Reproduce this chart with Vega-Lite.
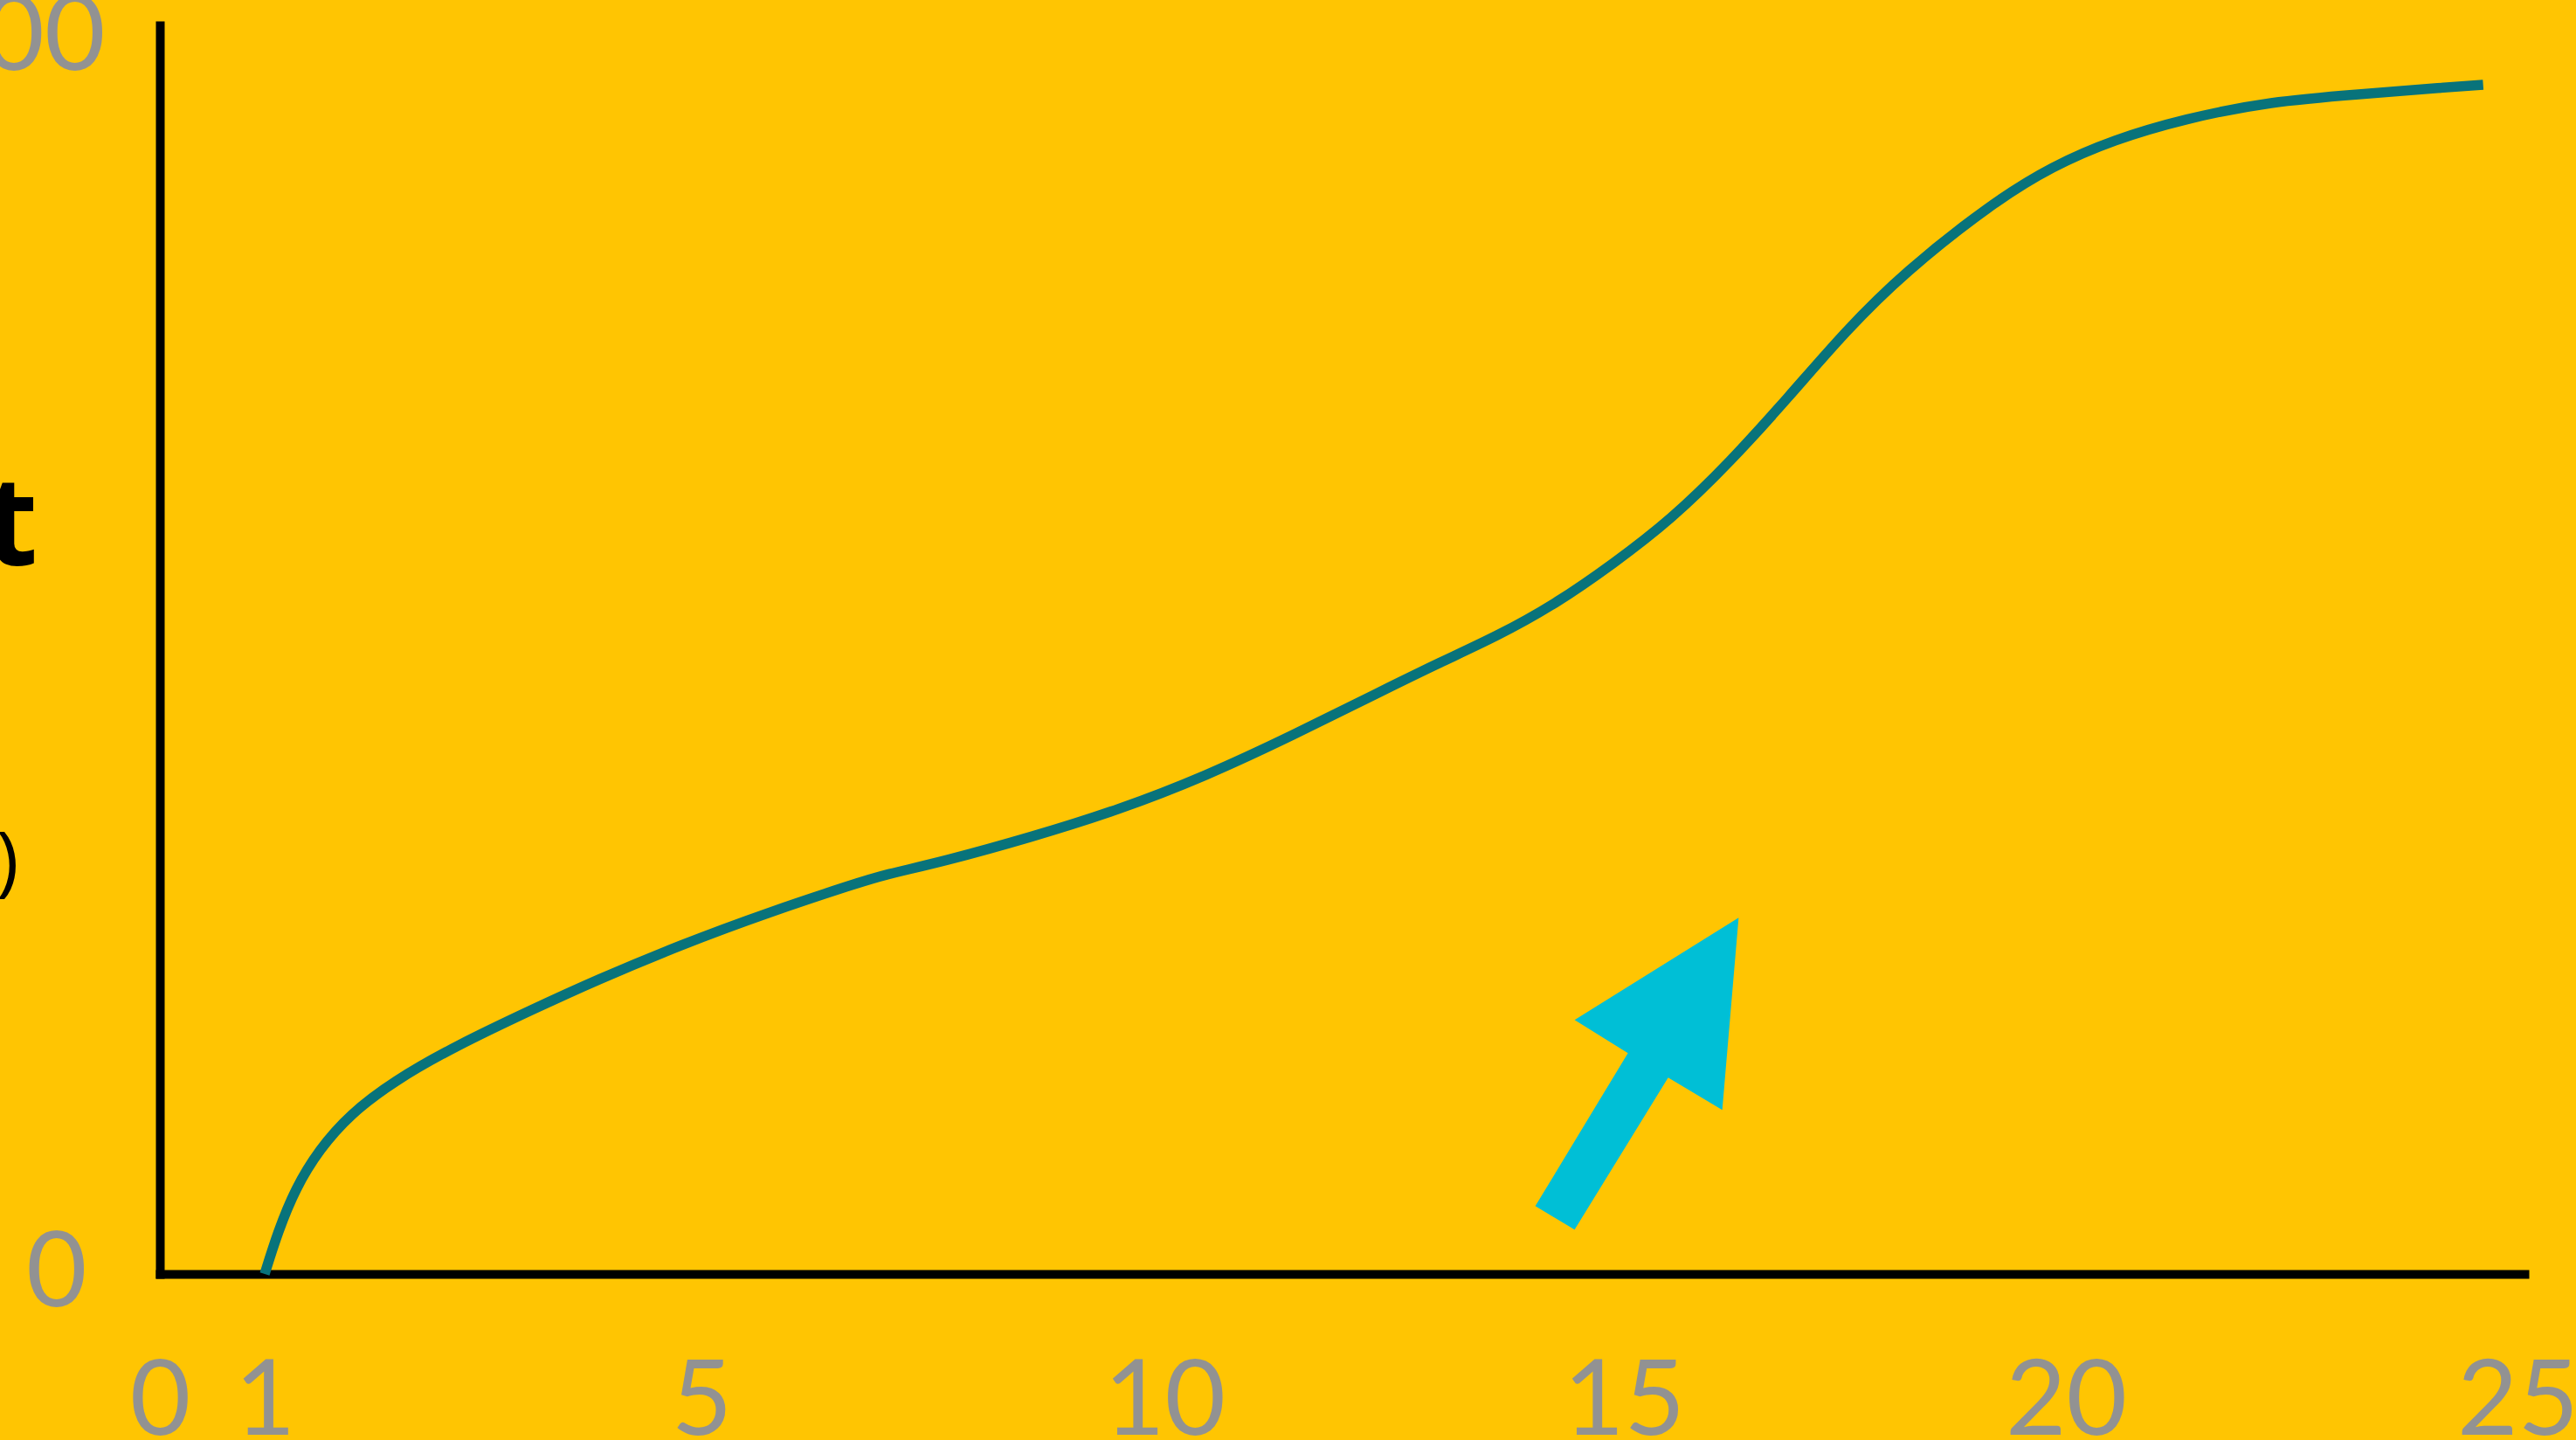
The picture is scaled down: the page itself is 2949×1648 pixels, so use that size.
{
  "$schema": "https://vega.github.io/schema/vega-lite/v6.json",
  "width": 2707,
  "height": 1429,
  "autosize": {"type": "none"},
  "padding": {"left": 183, "top": 29, "right": 59, "bottom": 190},
  "background": "#FFC502",
  "config": {
    "view": {"stroke": null},
    "axis": {
      "grid": false,
      "ticks": false,
      "tickSize": 0,
      "domainColor": "#000000",
      "domainWidth": 10,
      "domainCap": "square",
      "labelColor": "#929292",
      "labelFont": "Lato",
      "labelFontSize": 120,
      "labelFontWeight": "normal",
      "labelFlush": false,
      "labelOverlap": false,
      "labelBound": false,
      "labelLimit": 0,
      "format": "d"
    }
  },
  "layer": [
    {
      "data": {
        "values": [
          {"x": 1.0, "y": 0.0},
          {"x": 1.12, "y": 3.39},
          {"x": 1.28, "y": 6.91},
          {"x": 1.5, "y": 10.08},
          {"x": 1.78, "y": 12.91},
          {"x": 2.18, "y": 15.59},
          {"x": 2.74, "y": 18.41},
          {"x": 3.48, "y": 21.51},
          {"x": 4.02, "y": 23.7},
          {"x": 4.82, "y": 26.66},
          {"x": 5.73, "y": 29.27},
          {"x": 6.67, "y": 31.59},
          {"x": 6.98, "y": 32.3},
          {"x": 7.61, "y": 33.36},
          {"x": 8.56, "y": 35.33},
          {"x": 9.5, "y": 37.52},
          {"x": 10.45, "y": 40.27},
          {"x": 11.4, "y": 43.58},
          {"x": 12.35, "y": 47.11},
          {"x": 12.99, "y": 49.44},
          {"x": 13.61, "y": 51.55},
          {"x": 14.25, "y": 54.16},
          {"x": 14.89, "y": 57.48},
          {"x": 15.53, "y": 61.0},
          {"x": 16.2, "y": 65.66},
          {"x": 16.86, "y": 70.9},
          {"x": 17.51, "y": 76.3},
          {"x": 18.17, "y": 81.0},
          {"x": 19.16, "y": 86.6},
          {"x": 19.85, "y": 89.63},
          {"x": 20.53, "y": 91.75},
          {"x": 21.31, "y": 93.44},
          {"x": 22.27, "y": 94.85},
          {"x": 23.24, "y": 95.42},
          {"x": 24.21, "y": 95.98},
          {"x": 24.62, "y": 96.19}
        ]
      },
      "mark": {"type": "line", "color": "#08737B", "strokeWidth": 11.5, "interpolate": "basis", "strokeCap": "butt"},
      "encoding": {
        "x": {
          "field": "x",
          "type": "quantitative",
          "scale": {"domain": [0, 1, 5, 10, 15, 20, 25, 25.08], "range": [0, 120, 620, 1150, 1676, 2182, 2699, 2707], "nice": false, "zero": false},
          "axis": {
            "values": [0, 1, 5, 10, 15, 20, 25],
            "format": "d",
            "labelPadding": 88,
            "labelBaseline": "top",
            "labelAlign": "center",
            "title": "(%)",
            "titleAngle": 0,
            "titleAlign": "right",
            "titleBaseline": "alphabetic",
            "titleX": -162,
            "titleY": -444,
            "titleFont": "Open Sans",
            "titleFontSize": 88,
            "titleFontWeight": "normal",
            "titleColor": "#000000"
          }
        },
        "y": {
          "field": "y",
          "type": "quantitative",
          "scale": {"domain": [0, 101], "nice": false},
          "axis": {
            "values": [0, 100],
            "format": "d",
            "labelPadding": {"condition": {"test": "datum.value === 100", "value": 63}, "value": 84},
            "labelAlign": "right",
            "title": "Output",
            "titleAngle": 0,
            "titleAlign": "right",
            "titleBaseline": "alphabetic",
            "titleX": -140,
            "titleY": 617,
            "titleFont": "Open Sans",
            "titleFontSize": 142,
            "titleFontWeight": "bold",
            "titleColor": "#000000"
          }
        }
      }
    },
    {
      "data": {"values": [{"x": 15.15, "y": 16.2}]},
      "mark": {
        "type": "point",
        "shape": "M0.651,-1 L-0.401,-0.345 L-0.059,-0.132 L-0.653,0.849 L-0.401,1 L0.199,0.025 L0.546,0.232 Z",
        "size": 127449,
        "filled": true,
        "color": "#00BFD6",
        "opacity": 1,
        "strokeWidth": 0
      },
      "encoding": {
        "x": {"field": "x", "type": "quantitative"},
        "y": {"field": "y", "type": "quantitative"}
      }
    }
  ]
}
